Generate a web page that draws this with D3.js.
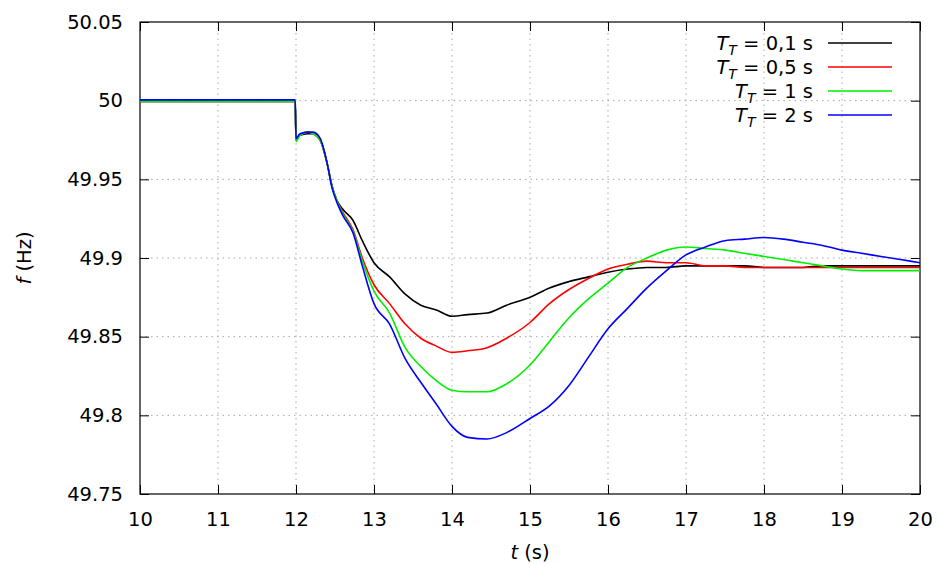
<!DOCTYPE html>
<html>
<head>
<meta charset="utf-8">
<script src="https://cdn.jsdelivr.net/npm/d3@7"></script>
<style>
  body { margin: 0; background: #fff; }
  text { font-family: "DejaVu Sans", sans-serif; fill: #000; }
  .grid line { stroke: #a8a8a8; stroke-width: 1; stroke-dasharray: 1.5,4; }
</style>
</head>
<body>
<div class="chart"></div>
<script>
// time samples (s), shared by all series
const times = [10, 11, 11.99, 12.0, 12.05, 12.15, 12.22, 12.31, 12.4, 12.46,
  12.52, 12.6, 12.73, 12.85, 13.0, 13.2, 13.4, 13.6, 13.8, 14.0,
  14.2, 14.45, 14.7, 15.0, 15.25, 15.5, 15.75, 16.0, 16.25, 16.5,
  16.75, 17.0, 17.25, 17.5, 17.75, 18.0, 18.25, 18.5, 18.75, 19.0,
  19.25, 19.5, 19.75, 20.0];

// frequency (Hz) for each T_T
const f01 = [49.9995, 49.9995, 49.9995, 49.975, 49.978, 49.979, 49.979, 49.975, 49.960, 49.946,
  49.937, 49.931, 49.924, 49.911, 49.897, 49.888, 49.877, 49.870, 49.867, 49.863,
  49.864, 49.865, 49.870, 49.875, 49.881, 49.885, 49.888, 49.891, 49.893, 49.894,
  49.894, 49.895, 49.895, 49.895, 49.895, 49.894, 49.894, 49.894, 49.895, 49.895,
  49.895, 49.895, 49.895, 49.895];
const f05 = [49.9995, 49.9995, 49.9995, 49.975, 49.978, 49.980, 49.979, 49.975, 49.960, 49.946,
  49.937, 49.929, 49.918, 49.900, 49.883, 49.871, 49.858, 49.849, 49.844, 49.840,
  49.841, 49.843, 49.849, 49.859, 49.871, 49.880, 49.887, 49.893, 49.896, 49.898,
  49.897, 49.897, 49.895, 49.895, 49.894, 49.894, 49.894, 49.894, 49.894, 49.894,
  49.894, 49.894, 49.894, 49.894];
const f1 = [49.9995, 49.9995, 49.9995, 49.974, 49.978, 49.980, 49.979, 49.975, 49.960, 49.946,
  49.937, 49.928, 49.917, 49.898, 49.879, 49.865, 49.843, 49.831, 49.822, 49.816,
  49.815, 49.815, 49.820, 49.832, 49.847, 49.862, 49.874, 49.884, 49.894, 49.900,
  49.905, 49.907, 49.906, 49.905, 49.903, 49.901, 49.899, 49.897, 49.895, 49.893,
  49.892, 49.892, 49.892, 49.892];
const f2 = [50.0005, 50.0005, 50.0005, 49.976, 49.979, 49.980, 49.980, 49.976, 49.960, 49.945,
  49.936, 49.927, 49.916, 49.895, 49.871, 49.858, 49.836, 49.821, 49.807, 49.793,
  49.786, 49.785, 49.789, 49.798, 49.806, 49.819, 49.837, 49.855, 49.868, 49.881,
  49.892, 49.902, 49.907, 49.911, 49.912, 49.913, 49.912, 49.910, 49.908, 49.905,
  49.903, 49.901, 49.899, 49.897];

const seriesNames = ['0,1 s', '0,5 s', '1 s', '2 s'];
const seriesValues = [f01, f05, f1, f2];
const seriesColors = ['#000000', '#ff0000', '#00ee00', '#0000ff'];

const xTicks = [10, 11, 12, 13, 14, 15, 16, 17, 18, 19, 20];
const yTicks = [49.75, 49.8, 49.85, 49.9, 49.95, 50, 50.05];

const W = 938, H = 564;
const mLeft = 140, mTop = 22, mRight = 920, mBottom = 494;
const fontSize = "19.5px";

const svg = d3.select(".chart").append("svg")
  .attr("width", W)
  .attr("height", H);

const x = d3.scaleLinear().domain([10, 20]).range([mLeft, mRight]);
const y = d3.scaleLinear().domain([49.75, 50.05]).range([mBottom, mTop]);

// grid
const grid = svg.append("g").attr("class", "grid");
grid.selectAll(".gx")
  .data(xTicks.slice(1, -1)).enter().append("line")
    .attr("x1", d => x(d)).attr("x2", d => x(d))
    .attr("y1", mTop).attr("y2", mBottom);
grid.selectAll(".gy")
  .data(yTicks.slice(1, -1)).enter().append("line")
    .attr("x1", mLeft).attr("x2", mRight)
    .attr("y1", d => y(d)).attr("y2", d => y(d));

// axes, ticks inward on all sides
const tickLen = 9;
const fmt = d => String(+d.toFixed(2));
const axB = svg.append("g").attr("transform", `translate(0,${mBottom})`)
  .call(d3.axisBottom(x).tickValues(xTicks).tickSize(-tickLen).tickPadding(18).tickFormat(fmt));
const axT = svg.append("g").attr("transform", `translate(0,${mTop})`)
  .call(d3.axisTop(x).tickValues(xTicks).tickSize(-tickLen).tickFormat(""));
const axL = svg.append("g").attr("transform", `translate(${mLeft},0)`)
  .call(d3.axisLeft(y).tickValues(yTicks).tickSize(-tickLen).tickPadding(17).tickFormat(fmt));
const axR = svg.append("g").attr("transform", `translate(${mRight},0)`)
  .call(d3.axisRight(y).tickValues(yTicks).tickSize(-tickLen).tickFormat(""));
[axB, axT, axL, axR].forEach(a => {
  a.select(".domain").remove();
  a.selectAll(".tick line").attr("stroke", "#000").attr("stroke-width", 1);
  a.selectAll(".tick text").style("font-size", fontSize).attr("fill", "#000")
    .style("font-family", '"DejaVu Sans", sans-serif');
});

// frame
svg.append("rect")
  .attr("x", mLeft).attr("y", mTop)
  .attr("width", mRight - mLeft).attr("height", mBottom - mTop)
  .attr("fill", "none").attr("stroke", "#000").attr("stroke-width", 1.2);

// curves
const line = d3.line()
  .x((d, i) => x(times[i]))
  .y(d => y(d))
  .curve(d3.curveMonotoneX);

svg.append("g").selectAll("path")
  .data(seriesValues).enter().append("path")
    .attr("d", d => line(d))
    .attr("fill", "none")
    .attr("stroke", (d, i) => seriesColors[i])
    .attr("stroke-width", 1.6);

// legend
const legend = svg.append("g");
seriesNames.forEach((name, i) => {
  const yy = 43 + i * 24;
  const t = legend.append("text")
    .attr("x", 813).attr("y", yy + 7)
    .attr("text-anchor", "end")
    .style("font-size", fontSize);
  t.append("tspan").attr("font-style", "italic").text("T");
  t.append("tspan").attr("font-style", "italic").attr("dy", 5).style("font-size", "14px").text("T");
  t.append("tspan").attr("dy", -5).text(" = " + name);
  legend.append("line")
    .attr("x1", 828).attr("x2", 892)
    .attr("y1", yy).attr("y2", yy)
    .attr("stroke", seriesColors[i]).attr("stroke-width", 1.5);
});

// axis titles
const xl = svg.append("text")
  .attr("x", 530).attr("y", 559)
  .attr("text-anchor", "middle")
  .style("font-size", fontSize);
xl.append("tspan").attr("font-style", "italic").text("t");
xl.append("tspan").text(" (s)");

const yl = svg.append("text")
  .attr("transform", "translate(31,258) rotate(-90)")
  .attr("text-anchor", "middle")
  .style("font-size", fontSize);
yl.append("tspan").attr("font-style", "italic").text("f");
yl.append("tspan").text(" (Hz)");
</script>
</body>
</html>
